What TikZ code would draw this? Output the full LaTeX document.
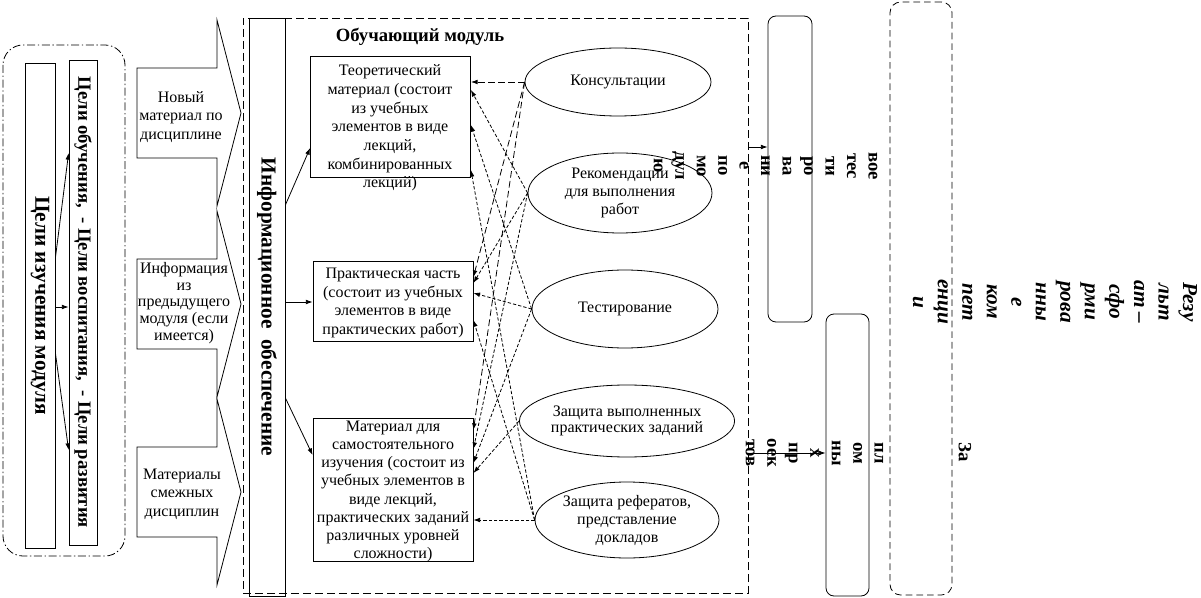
\documentclass[tikz,border=0pt]{standalone}
\usepackage{fontspec}
\setmainfont{Liberation Serif}
\usetikzlibrary{shapes.geometric}
\usetikzlibrary{arrows.meta}
\tikzset{
  arr/.style={-{Latex[length=5pt,width=3.5pt]}},
  box/.style={draw,minimum width=120pt,inner sep=0pt},
  boxtext/.style={align=center,font=\fontsize{12}{14}\selectfont},
  oval/.style={draw,ellipse,inner sep=0pt,align=center,font=\fontsize{12}{13.5}\selectfont},
  vbar/.style={draw,rotate=-90,inner sep=0pt,font=\bfseries\fontsize{16}{18}\selectfont},
  frag/.style={rotate=-90,align=center,font=\bfseries\fontsize{14}{16.1}\selectfont},
  longdash/.style={dash pattern=on 5pt off 2.5pt},
  shortdash/.style={dash pattern=on 2.5pt off 1.5pt}
}
\begin{document}
\begin{tikzpicture}[x=0.75pt,y=-0.75pt,line width=0.6pt]
\useasboundingbox (0,0) rectangle (1201,598);
% goals of the module
\draw[dash pattern=on 6pt off 2pt on 1pt off 2pt,rounded corners=15pt] (3,45) rectangle (125,556);
\node[vbar,minimum width=363.75pt,minimum height=22.5pt] (aims) at (40,305.5) {Цели изучения модуля};
\node[vbar,minimum width=363.75pt,minimum height=21pt,font=\bfseries\fontsize{14}{16}\selectfont] (goals) at (83,302.5) {Цели обучения,\ \ - Цели воспитания,\ \ - Цели развития};
\draw[arr] (aims.north |- 0,258) -- (goals.south |- 0,153);
\draw[arr] (aims.north |- 0,307) -- (goals.south |- 0,307);
\draw[arr] (aims.north |- 0,353) -- (goals.south |- 0,450);
% input arrows
\foreach \cy in {113,304,492}
  \draw (137,\cy-45) -- (217,\cy-45) -- (217,\cy-93) -- (241,\cy) -- (217,\cy+93) -- (217,\cy+45) -- (137,\cy+45) -- cycle;
\node[boxtext] (newmat) at (181,117) {Новый\\материал по\\дисциплине};
\node[boxtext,font=\fontsize{12}{12.6}\selectfont] (prevmod) at (184,303) {Информация\\из\\предыдущего\\модуля (если\\имеется)};
\node[boxtext] (related) at (182,494) {Материалы\\смежных\\дисциплин};
% the module
\node[draw,dash pattern=on 6pt off 3pt,minimum width=378.75pt,minimum height=431.25pt,inner sep=0pt] (module) at (495.5,305.5) {};
\node[vbar,minimum width=433.5pt,minimum height=27pt] (info) at (267,307) {Информационное\ \ обеспечение};
\node[font=\bfseries\fontsize{14}{16}\selectfont] (title) at (420,37) {Обучающий модуль};
\node[box,minimum height=90.75pt] (theory) at (390.5,116.5) {};
\node[boxtext] (theorytxt) at (390,128) {Теоретический\\материал (состоит\\из учебных\\элементов в виде\\лекций,\\комбинированных\\лекций)};
\node[box,minimum height=60pt] (practice) at (393,301) {};
\node[boxtext] (practicetxt) at (393,303) {Практическая часть\\(состоит из учебных\\элементов в виде\\практических работ)};
\node[box,minimum height=107.25pt] (selfstudy) at (393,489.5) {};
\node[boxtext,font=\fontsize{12}{13.6}\selectfont] (selfstudytxt) at (393,491.5) {Материал для\\самостоятельного\\изучения (состоит из\\учебных элементов в\\виде лекций,\\практических заданий\\различных уровней\\сложности)};
\draw[arr] (info.north |- 0,205) -- (theory.west |- 0,148);
\draw[arr] (info.north |- 0,302) -- (practice.west |- 0,302);
\draw[arr] (info.north |- 0,398) -- (selfstudy.west |- 0,455);
% forms of work
\node[oval,minimum width=139.5pt,minimum height=51pt] (consult) at (618,82) {Консультации};
\node[oval,minimum width=138pt,minimum height=60pt] (advice) at (620,193) {Рекомендации\\для выполнения\\работ};
\node[oval,minimum width=139.5pt,minimum height=58.5pt] (testing) at (625,309) {Тестирование};
\node[oval,minimum width=154.5pt,minimum height=54pt,font=\fontsize{12}{12}\selectfont] (defpract) at (627,421) {Защита выполненных\\практических заданий};
\node[oval,minimum width=138pt,minimum height=57pt] (defessay) at (627,520) {Защита рефератов,\\представление\\докладов};
\draw[longdash,arr] (consult.west) -- (theory.east |- consult.west);
\draw[longdash,arr] (consult.west) -- (practice.east |- 0,277);
\draw[longdash,arr] (consult.west) -- (selfstudy.east |- 0,430);
\foreach \src/\dst/\y in {advice/theory/90, advice/practice/283, advice/selfstudy/449, testing/theory/125, testing/practice/293, testing/selfstudy/463, defpract/selfstudy/473, defessay/theory/170, defessay/practice/320}
  \draw[shortdash,arr] (\src.west) -- (\dst.east |- 0,\y);
\draw[shortdash,arr] (defessay.west) -- (selfstudy.east |- defessay.west);
% control and result
\node[draw,rounded corners=6pt,minimum width=33pt,minimum height=229.5pt,inner sep=0pt] (testbox) at (790,169) {};
\node[draw,rounded corners=6pt,minimum width=32.25pt,minimum height=211.5pt,inner sep=0pt] (projbox) at (847.5,455) {};
\node[draw,dash pattern=on 5pt off 3pt,rounded corners=8pt,minimum width=46.5pt,minimum height=444.75pt,inner sep=0pt] (resultbox) at (921,298.5) {};
\draw[arr] (module.east |- 0,147) -- (testbox.west |- 0,147);
\draw[arr] (module.east |- 0,453) -- (projbox.west |- 0,453);
\node[frag] (testtxt) at (765.5,166) {вое\\тес\\ти\\ро\\ва\\ни\\е\\по\\мо\\дул\\ю};
\node[frag] (projtxt) at (814.5,453) {пл\\ом\\ны\\х\\пр\\оек\\тов};
\node[frag] (zatxt) at (965,452) {За};
\node[rotate=-90,align=center,font=\bfseries\itshape\fontsize{16}{18.4}\selectfont] (resulttxt) at (1055,302) {Резу\\льт\\ат –\\сфо\\рми\\рова\\нны\\е\\ком\\пет\\енци\\и};
\end{tikzpicture}
\end{document}
